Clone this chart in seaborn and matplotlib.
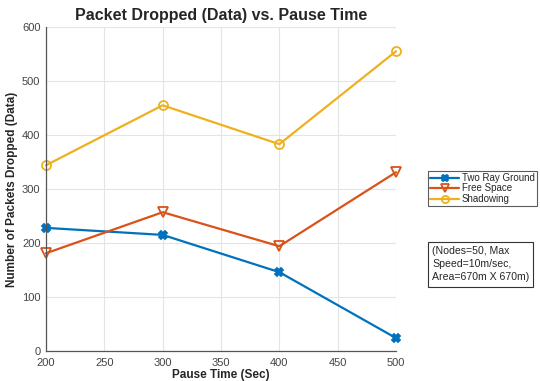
import matplotlib
matplotlib.use('Agg')
import matplotlib.pyplot as plt
import seaborn as sns
import pandas as pd

pause_time = [200, 300, 400, 500]
two_ray = [228, 215, 146, 24]
free_space = [181, 257, 194, 331]
shadowing = [344, 455, 383, 555]
series_names = ['Two Ray Ground', 'Free Space', 'Shadowing']

sns.set_style('whitegrid')
plt.rcParams['font.family'] = ['Liberation Sans', 'DejaVu Sans']

fig = plt.figure(figsize=(5.4, 3.81), dpi=100)
ax = fig.add_axes([46 / 540, 30 / 381, 350 / 540, 324 / 381])

palette = ['#0072BD', '#D95319', '#EDB120']
marker_list = ['X', 'v', 'o']
for name, vals, col, mk in zip(series_names, [two_ray, free_space, shadowing],
                               palette, marker_list):
    sub = pd.DataFrame({'Pause': pause_time, 'Dropped': vals})
    sns.lineplot(data=sub, x='Pause', y='Dropped', ax=ax, color=col,
                 marker=mk, markersize=6.5 if mk != 'X' else 5.5,
                 markerfacecolor='none' if mk != 'X' else col,
                 markeredgecolor=col, markeredgewidth=1.3,
                 linewidth=1.6, label=name, clip_on=False)

ax.set_xlim(200, 500)
ax.set_ylim(0, 600)
ax.set_xticks([200, 250, 300, 350, 400, 450, 500])
ax.set_yticks([0, 100, 200, 300, 400, 500, 600])
ax.tick_params(labelsize=8, colors='#444444', length=0)
ax.tick_params(axis='x', pad=5)
ax.tick_params(axis='y', pad=4)
ax.grid(color='#e4e4e4', linewidth=0.8)
for side in ['top', 'right']:
    ax.spines[side].set_visible(False)
for side in ['left', 'bottom']:
    ax.spines[side].set_color('#555555')
    ax.spines[side].set_linewidth(0.9)

ax.set_title('Packet Dropped (Data) vs. Pause Time', fontsize=11.5,
             fontweight='bold', pad=5)
ax.set_xlabel('Pause Time (Sec)', fontsize=8.5, fontweight='bold', labelpad=1)
ax.set_ylabel('Number of Packets Dropped (Data)', fontsize=8.5,
              fontweight='bold', labelpad=3)

leg = ax.legend(loc='upper left', bbox_to_anchor=(428 / 540, 1 - 171 / 381),
                bbox_transform=fig.transFigure, fontsize=7, frameon=True,
                fancybox=False, edgecolor='#333333', borderpad=0.2,
                labelspacing=0.05, handlelength=3.0, handletextpad=0.3,
                borderaxespad=0, markerscale=0.8)
leg.get_frame().set_linewidth(0.8)

fig.text(432 / 540, 1 - 246 / 381,
         '(Nodes=50, Max\nSpeed=10m/sec,\nArea=670m X 670m)',
         fontsize=7.6, va='top', ha='left', linespacing=1.4,
         bbox=dict(boxstyle='square,pad=0.4', fc='white', ec='#333333', lw=0.8))

fig.savefig('out.png', dpi=100)
